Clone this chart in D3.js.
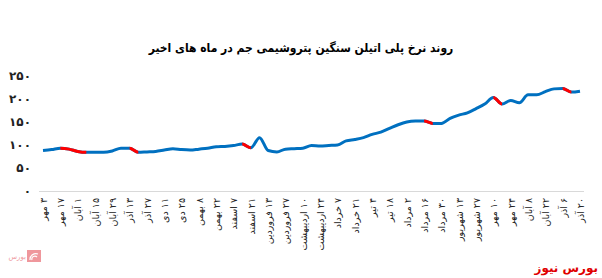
<!DOCTYPE html>
<html>
<head>
<meta charset="utf-8">
<title>Jam HDPE price trend</title>
<script src="https://d3js.org/d3.v7.min.js"></script>
<style>
    body { margin: 0; background: #fff; }
    svg text { font-family: "DejaVu Sans", sans-serif; }
</style>
</head>
<body>
<script>
// chart title
var title = "روند نرخ پلی اتیلن سنگین پتروشیمی جم در ماه های اخیر";

// weekly prices (63 weeks)
var values = [88, 90, 93, 91, 86, 84, 84, 84, 87, 93, 93, 84, 85, 86, 89, 92,
    90, 89, 91, 93, 96, 97, 99, 102, 94, 116, 88, 85, 91, 92, 93, 99,
    98, 99, 100, 109, 112, 116, 123, 128, 136, 144, 150, 152, 152, 147, 147, 158,
    165, 170, 179, 189, 203, 189, 197, 192, 209, 209, 216, 222, 223, 215, 217];

// segments drawn red (start index of the segment)
var redSegments = [2, 3, 4, 10, 23, 44, 52, 60];

// x labels, one every second week
var tickLabels = ["۳ مهر", "۱۷ مهر", "۱ آبان", "۱۵ آبان", "۲۹ آبان", "۱۳ آذر", "۲۷ آذر",
    "۱۱ دی", "۲۵ دی", "۸ بهمن", "۲۲ بهمن", "۷ اسفند", "۲۱ اسفند", "۱۳ فروردین",
    "۲۷ فروردین", "۱۰ اردیبهشت", "۲۴ اردیبهشت", "۷ خرداد", "۲۱ خرداد", "۴ تیر",
    "۱۸ تیر", "۲ مرداد", "۱۶ مرداد", "۳۰ مرداد", "۱۳ شهریور", "۲۷ شهریور",
    "۱۰ مهر", "۲۴ مهر", "۸ آبان", "۲۲ آبان", "۶ آذر", "۲۰ آذر"];

var yTicks = [0, 50, 100, 150, 200, 250];

var width = 602, height = 278;

function fa(n) {
    return String(n).replace(/\d/g, function(c) { return "۰۱۲۳۴۵۶۷۸۹"[+c]; });
}

var svg = d3.select("body").append("svg")
    .attr("width", width)
    .attr("height", height);

var x = d3.scaleLinear().domain([0, values.length - 1]).range([43, 580]);
var y = d3.scaleLinear().domain([0, 250]).range([191, 76]);

svg.append("text")
    .attr("x", 301)
    .attr("y", 52)
    .attr("text-anchor", "middle")
    .attr("direction", "rtl")
    .style("font-family", "'DejaVu Sans Condensed', 'DejaVu Sans', sans-serif")
    .style("font-size", "12px")
    .style("font-weight", "bold")
    .attr("fill", "#000")
    .text(title);

// y axis
var yAxis = svg.append("g")
    .attr("transform", "translate(40,0)")
    .call(d3.axisLeft(y).tickValues(yTicks).tickSize(0).tickPadding(9).tickFormat(fa));
yAxis.select(".domain").remove();
yAxis.selectAll("text")
    .style("font-size", "12px")
    .style("font-weight", "bold")
    .attr("fill", "#222");

// x axis
var xAxis = svg.append("g")
    .attr("transform", "translate(0," + y(0) + ")")
    .call(d3.axisBottom(x)
        .tickValues(d3.range(0, values.length, 2))
        .tickSize(0)
        .tickFormat(function(i) { return tickLabels[i / 2]; }));
xAxis.select(".domain").attr("stroke", "#d9d9d9").attr("d", "M39,0.5H584");
// rtl so the day number sits at the top once rotated
xAxis.selectAll("text")
    .attr("transform", "rotate(-90)")
    .attr("x", -7)
    .attr("y", 0)
    .attr("dy", "0.35em")
    .attr("direction", "rtl")
    .attr("text-anchor", "start")
    .style("font-size", "9.5px")
    .attr("fill", "#222");

// the line: blue underneath, red where clipped to marked segments
var line = d3.line()
    .x(function(d, i) { return x(i); })
    .y(function(d) { return y(d); })
    .curve(d3.curveMonotoneX);

var clip = svg.append("clipPath").attr("id", "redclip");
clip.selectAll("rect")
    .data(redSegments)
    .enter()
    .append("rect")
    .attr("x", function(i) { return x(i); })
    .attr("width", function(i) { return x(i + 1) - x(i); })
    .attr("y", 0)
    .attr("height", height);

svg.append("path")
    .datum(values)
    .attr("d", line)
    .attr("fill", "none")
    .attr("stroke", "#0070c0")
    .attr("stroke-width", 3)
    .attr("stroke-linejoin", "round");

svg.append("path")
    .datum(values)
    .attr("d", line)
    .attr("clip-path", "url(#redclip)")
    .attr("fill", "none")
    .attr("stroke", "#ff0000")
    .attr("stroke-width", 3)
    .attr("stroke-linejoin", "round");

// watermark logo, bottom left
var logo = svg.append("g").attr("transform", "translate(14,250)").attr("opacity", 0.5);
logo.append("rect").attr("x", 13).attr("y", 0).attr("width", 14).attr("height", 12).attr("fill", "#e0323c");
logo.append("path").attr("d", "M16,10a6,6 0 0 1 8,-6M18,10a3,3 0 0 1 5,-3").attr("fill", "none").attr("stroke", "#fff").attr("stroke-width", 1.2);
logo.append("text").attr("x", 12).attr("y", 9).attr("text-anchor", "end")
    .style("font-size", "7px").attr("fill", "#e0323c").text("بورس");

// source text, bottom right
svg.append("text")
    .attr("x", 598)
    .attr("y", 272)
    .attr("text-anchor", "end")
    .style("font-size", "12px")
    .style("font-weight", "bold")
    .attr("fill", "#e00000")
    .text("بورس نیوز");
</script>
</body>
</html>
